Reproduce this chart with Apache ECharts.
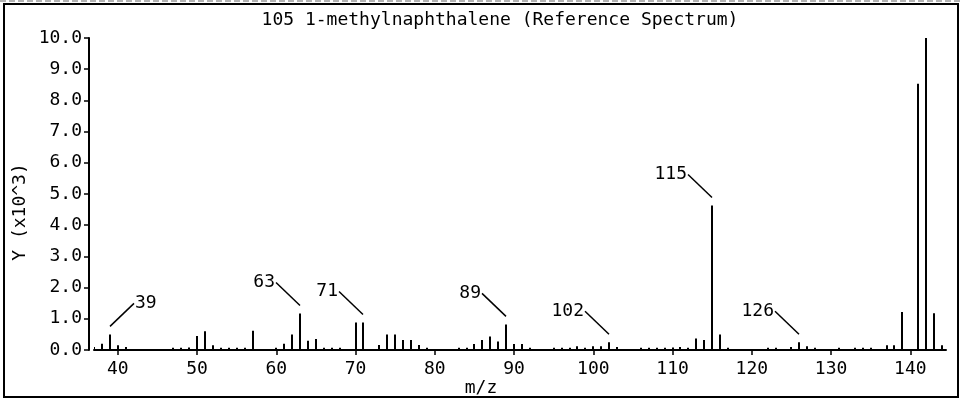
<!DOCTYPE html>
<html><head><meta charset="utf-8">
<script src="https://cdn.jsdelivr.net/npm/echarts@6/dist/echarts.min.js"></script>
<style>html,body{margin:0;padding:0;background:#fff}#c{width:961px;height:399px}</style>
</head><body><div id="c"></div>
<script>
// m/z values and intensities (x10^3)
const mzValues = [37,38,39,40,41,47,48,49,50,51,52,53,54,55,56,57,60,61,62,63,64,65,66,67,68,70,71,73,74,75,76,77,78,79,83,84,85,86,87,88,89,90,91,92,95,96,97,98,99,100,101,102,103,106,107,108,109,110,111,112,113,114,115,116,117,122,123,125,126,127,128,131,133,134,135,137,138,139,141,142,143,144];
const intensities = [0.1,0.2,0.5,0.15,0.1,0.07,0.07,0.08,0.45,0.6,0.15,0.07,0.07,0.07,0.07,0.62,0.07,0.2,0.5,1.17,0.3,0.35,0.07,0.07,0.07,0.88,0.88,0.16,0.5,0.5,0.32,0.32,0.16,0.07,0.07,0.07,0.19,0.32,0.43,0.27,0.82,0.19,0.19,0.07,0.07,0.07,0.07,0.12,0.07,0.12,0.12,0.25,0.1,0.07,0.07,0.07,0.07,0.08,0.1,0.07,0.37,0.32,4.63,0.5,0.07,0.07,0.07,0.1,0.25,0.12,0.07,0.07,0.07,0.07,0.07,0.15,0.15,1.22,8.53,10.0,1.18,0.15];
const annotatedMz = [39,63,71,89,102,115,126];
const xTickValues = [40,50,60,70,80,90,100,110,120,130,140];
const titleText = '105 1-methylnaphthalene (Reference Spectrum)';
const xAxisTitle = 'm/z';
const yAxisTitle = 'Y (x10^3)';

const FONT = '"DejaVu Sans Mono", "Liberation Mono", monospace';
const barData = mzValues.map((m, i) => [m, intensities[i]]);
const annData = annotatedMz.map(m => [m, intensities[mzValues.indexOf(m)]]);

const chart = echarts.init(document.getElementById('c'), null, {renderer: 'canvas'});
chart.setOption({
  animation: false,
  backgroundColor: '#fff',
  grid: {left: 94, right: 15, top: 38, bottom: 49},
  xAxis: {
    type: 'value', min: 37, max: 144.5, offset: 4,
    axisLine: {lineStyle: {color: '#000', width: 2}},
    axisTick: {show: true, length: 5, lineStyle: {color: '#000', width: 1.5}, customValues: xTickValues},
    axisLabel: {color: '#000', fontFamily: FONT, fontSize: 18, margin: 6, customValues: xTickValues},
    splitLine: {show: false}
  },
  yAxis: {
    type: 'value', min: 0, max: 10, interval: 1, offset: 5,
    axisLine: {show: true, lineStyle: {color: '#000', width: 2}},
    axisTick: {show: true, length: 5, lineStyle: {color: '#000', width: 1.5}},
    axisLabel: {color: '#000', fontFamily: FONT, fontSize: 18, margin: 7, formatter: v => v.toFixed(1)},
    splitLine: {show: false}
  },
  graphic: [
    {type: 'rect', shape: {x: 4, y: 4, width: 954, height: 393}, style: {stroke: '#000', fill: 'none', lineWidth: 2}, z: 100},
    {type: 'line', shape: {x1: 0, y1: 1, x2: 961, y2: 1}, style: {stroke: '#666', lineWidth: 1, lineDash: [6, 3]}},
    {type: 'text', x: 500, y: 20, style: {text: titleText, font: '18px ' + FONT, fill: '#000', align: 'center', verticalAlign: 'middle'}},
    {type: 'text', x: 481, y: 388, style: {text: xAxisTitle, font: '18px ' + FONT, fill: '#000', align: 'center', verticalAlign: 'middle'}},
    {type: 'text', x: 20, y: 212, rotation: Math.PI / 2, style: {text: yAxisTitle, font: '18px ' + FONT, fill: '#000', align: 'center', verticalAlign: 'middle'}}
  ],
  series: [
    {
      type: 'custom', data: barData, clip: true,
      renderItem: (params, api) => {
        const a = api.coord([api.value(0), 0]);
        const b = api.coord([api.value(0), api.value(1)]);
        const x = Math.round(a[0]);
        return {type: 'line', shape: {x1: x, y1: a[1], x2: x, y2: b[1]}, style: {stroke: '#000', lineWidth: 2}};
      }
    },
    {
      type: 'custom', data: annData,
      renderItem: (params, api) => {
        const p = api.coord([api.value(0), api.value(1)]);
        const flip = p[0] - 50 < params.coordSys.x;
        const dir = flip ? 1 : -1;
        const ex = Math.round(p[0]), ey = p[1] - 8;
        const sx = ex + dir * 24, sy = ey - 23;
        return {type: 'group', children: [
          {type: 'line', shape: {x1: sx, y1: sy, x2: ex, y2: ey}, style: {stroke: '#000', lineWidth: 1.5}},
          {type: 'text', style: {text: String(api.value(0)), x: sx + dir * 1, y: sy, align: flip ? 'left' : 'right', verticalAlign: 'middle', font: '18px ' + FONT, fill: '#000'}}
        ]};
      }
    }
  ]
});
</script></body></html>
